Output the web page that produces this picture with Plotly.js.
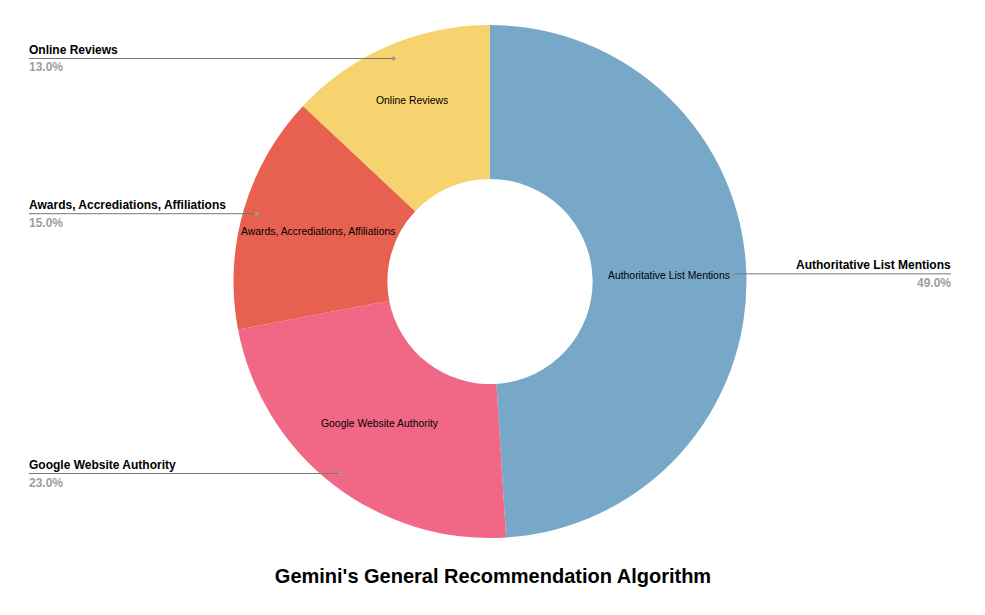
<!DOCTYPE html>
<html>
<head>
<meta charset="utf-8">
<script src="https://cdn.plot.ly/plotly-3.0.1.min.js"></script>
<style>
  html, body { margin: 0; padding: 0; background: #fff; }
  #chart { width: 985px; height: 615px; }
</style>
</head>
<body>
<div id="chart"></div>
<script>
var labels = ['Authoritative List Mentions', 'Google Website Authority', 'Awards, Accrediations, Affiliations', 'Online Reviews'];
var values = [49, 23, 15, 13];
var colors = ['#77a8c8', '#f06886', '#e8604f', '#f6d36e'];
var chartTitle = "Gemini's General Recommendation Algorithm";

// pie geometry (pixels)
var W = 985, H = 615;
var cx = 490, cy = 281.5, R = 256.5, hole = 0.4;
var rText = R * (1 + hole) / 2;
var rDot = 243;

function toPaperX(px) { return px / W; }
function toPaperY(py) { return 1 - py / H; }

var total = values.reduce(function(a, b) { return a + b; }, 0);
var annotations = [];
var shapes = [];
var cum = 0;

for (var i = 0; i < values.length; i++) {
  var mid = (cum + values[i] / 2) / total;
  cum += values[i];
  var a = mid * 2 * Math.PI;
  var s = Math.sin(a), c = Math.cos(a);

  // narrow slices push their label a bit outward
  var r = values[i] / total < 0.14 ? rText * 1.1 : rText;
  annotations.push({
    x: toPaperX(cx + r * s), y: toPaperY(cy - r * c),
    xref: 'paper', yref: 'paper', xanchor: 'center', yanchor: 'middle', showarrow: false,
    text: labels[i], font: { family: 'Liberation Sans, Arial', size: 10.4, color: '#000' }
  });

  // leader line to the outside label
  var dx = cx + rDot * s, dy = cy - rDot * c;
  var right = s > 0;
  var tx = right ? 951 : 29;
  var ax = right ? tx + 2 : tx - 2;
  shapes.push({
    type: 'line', xref: 'paper', yref: 'paper',
    x0: toPaperX(tx), x1: toPaperX(dx), y0: toPaperY(dy), y1: toPaperY(dy),
    line: { color: '#777', width: 1 }
  });
  shapes.push({
    type: 'circle', xref: 'paper', yref: 'paper',
    x0: toPaperX(dx - 2), x1: toPaperX(dx + 2), y0: toPaperY(dy - 2), y1: toPaperY(dy + 2),
    fillcolor: '#999', line: { width: 0 }
  });
  annotations.push({
    x: toPaperX(ax), y: toPaperY(dy - 8.5), xref: 'paper', yref: 'paper',
    xanchor: right ? 'right' : 'left', yanchor: 'middle', showarrow: false,
    text: '<b>' + labels[i] + '</b>',
    font: { family: 'Liberation Sans, Arial', size: 12, color: '#000' }
  });
  annotations.push({
    x: toPaperX(ax), y: toPaperY(dy + 9), xref: 'paper', yref: 'paper',
    xanchor: right ? 'right' : 'left', yanchor: 'middle', showarrow: false,
    text: '<b>' + (values[i] / total * 100).toFixed(1) + '%</b>',
    font: { family: 'Liberation Sans, Arial', size: 12, color: '#9e9e9e' }
  });
}

var trace = {
  type: 'pie',
  labels: labels,
  values: values,
  hole: hole,
  sort: false,
  direction: 'clockwise',
  rotation: 0,
  textinfo: 'none',
  hoverinfo: 'label+percent',
  marker: { colors: colors, line: { width: 0 } },
  domain: {
    x: [toPaperX(cx - R), toPaperX(cx + R)],
    y: [toPaperY(cy + R), toPaperY(cy - R)]
  }
};

var layout = {
  width: W, height: H,
  margin: { l: 0, r: 0, t: 0, b: 0 },
  paper_bgcolor: '#fff',
  showlegend: false,
  title: {
    text: '<b>' + chartTitle + '</b>',
    x: 493 / W, xref: 'paper', xanchor: 'center',
    y: 1 - 576 / H, yref: 'container', yanchor: 'middle',
    font: { family: 'Liberation Sans, Arial', size: 20, color: '#000' }
  },
  annotations: annotations,
  shapes: shapes
};

Plotly.newPlot('chart', [trace], layout, { displayModeBar: false });
</script>
</body>
</html>
